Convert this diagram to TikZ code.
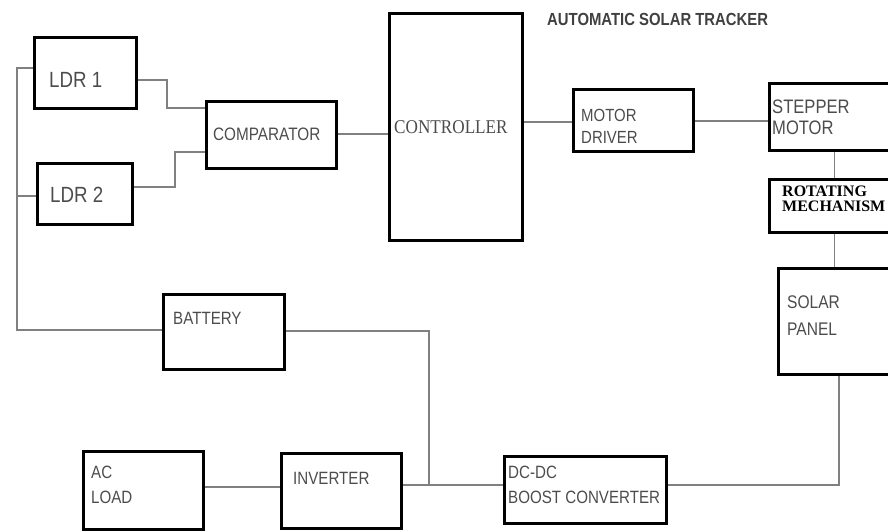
\documentclass[tikz,border=0pt]{standalone}
\usepackage{fontspec}
\setmainfont{Liberation Sans}
\newfontfamily\narrowfont[FakeStretch=0.85]{Liberation Sans}
\newfontfamily\narrowserif[FakeStretch=0.88]{Liberation Serif}
\newfontfamily\timesfont{Liberation Serif}
\begin{document}
\begin{tikzpicture}[x=1pt,y=-1pt,
  box/.style={draw, line width=3pt, anchor=north west, inner sep=0pt},
  lbl/.style={anchor=west, inner sep=0pt, align=left, text=black!70,
    font=\narrowfont\fontsize{17.8}{25}\selectfont},
  wire/.style={draw=black!50, line width=1.8pt}]
\useasboundingbox (0,0) rectangle (888,531);
\clip (0,0) rectangle (888,531);

% Title
\node[anchor=west, inner sep=0pt, text=black!75, font=\narrowfont\fontsize{17.5}{20}\selectfont\bfseries]
  (title) at (547,19) {AUTOMATIC SOLAR TRACKER};

% Blocks
\node[box, minimum width=102, minimum height=71] (ldr1) at (33,36) {};
\node[box, minimum width=95, minimum height=61] (ldr2) at (36,162) {};
\node[box, minimum width=130, minimum height=67] (cmp) at (205,100) {};
\node[box, minimum width=133, minimum height=227] (ctrl) at (388,12) {};
\node[box, minimum width=120, minimum height=62] (mdrv) at (572,88) {};
\node[box, minimum width=130, minimum height=67] (step) at (768,82) {};
\node[box, minimum width=130, minimum height=53] (rot) at (768,178) {};
\node[box, minimum width=121, minimum height=106] (solar) at (777,267) {};
\node[box, minimum width=121, minimum height=75] (bat) at (162,293) {};
\node[box, minimum width=120, minimum height=78] (acl) at (82,450) {};
\node[box, minimum width=120, minimum height=75] (inv) at (280,452) {};
\node[box, minimum width=162, minimum height=67] (dcdc) at (503,455) {};

% Labels
\node[lbl, font=\narrowfont\fontsize{22}{24}\selectfont] (ldr1t) at (49,80) {LDR 1};
\node[lbl, font=\narrowfont\fontsize{22}{24}\selectfont] (ldr2t) at (50,195) {LDR 2};
\node[lbl, font=\narrowfont\fontsize{18}{20}\selectfont] (cmpt) at (213,134) {COMPARATOR};
\node[lbl, font=\narrowserif\fontsize{19.5}{22}\selectfont] (ctrlt) at (394,127) {CONTROLLER};
\node[lbl, font=\narrowfont\fontsize{17.6}{22}\selectfont] (mdrvt) at (581,126) {MOTOR\\DRIVER};
\node[lbl, font=\narrowfont\fontsize{19.5}{21}\selectfont] (stept) at (772,117) {STEPPER\\MOTOR};
\node[lbl, font=\fontsize{16}{15}\timesfont\bfseries, text=black] (rott) at (782,199) {ROTATING\\MECHANISM};
\node[lbl, font=\narrowfont\fontsize{18.3}{27}\selectfont] (solart) at (787,316) {SOLAR\\PANEL};
\node[lbl] (batt) at (173,318) {BATTERY};
\node[lbl] (aclt) at (91,485) {AC\\LOAD};
\node[lbl] (invt) at (293,478) {INVERTER};
\node[lbl] (dcdct) at (508,485) {DC-DC\\BOOST CONVERTER};

% Connections
\coordinate (rail) at (17,196);
\coordinate (jn) at (429,485);
\draw[wire] (ldr1.east |- 0,80) -| (167,108) -- (cmp.west |- 0,108);
\draw[wire] (ldr2.east |- 0,187) -| (175,152) -- (cmp.west |- 0,152);
\draw[wire] (cmp.east |- 0,134) -- (ctrl.west |- 0,134);
\draw[wire] (ldr1.west |- 0,68) -| (17,330) -- (bat.west |- 0,330);
\draw[wire] (ldr2.west |- 0,196) -- (rail);
\draw[wire] (ctrl.east |- 0,122) -- (mdrv.west |- 0,122);
\draw[wire] (mdrv.east |- 0,121) -- (step.west |- 0,121);
\draw[wire] (step.south) -- (rot.north);
\draw[wire] (rot.south) -- (rot.south |- solar.north);
\draw[wire] (bat.east |- 0,331) -| (jn);
\draw[wire] (acl.east |- 0,487) -- (inv.west |- 0,487);
\draw[wire] (inv.east |- 0,485) -- (dcdc.west |- 0,485);
\draw[wire] (dcdc.east |- 0,485) -| (solar.south);
\end{tikzpicture}
\end{document}
